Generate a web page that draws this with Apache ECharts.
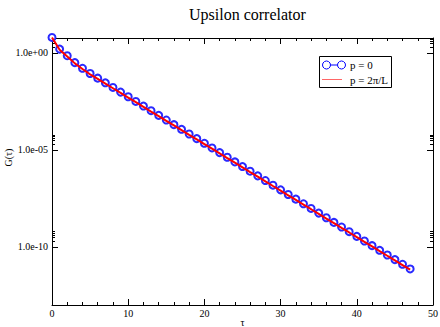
<!DOCTYPE html>
<html>
<head>
<meta charset="utf-8">
<script src="https://cdn.jsdelivr.net/npm/echarts@6/dist/echarts.min.js"></script>
<style>html,body{margin:0;padding:0;background:#fff}#c{width:440px;height:327px}</style>
</head>
<body>
<div id="c"></div>
<script>
const titleText = 'Upsilon correlator';
const xName = 'τ';
const yName = 'G(τ)';
const seriesNames = ['p = 0', 'p = 2π/L'];
const tau = [0,1,2,3,4,5,6,7,8,9,10,11,12,13,14,15,16,17,18,19,20,21,22,23,24,25,26,27,28,29,30,31,32,33,34,35,36,37,38,39,40,41,42,43,44,45,46,47];
const gP0 = [6.3,1.58,0.72,0.316,0.162,0.087,5.01e-2,2.88e-2,1.66e-2,9.55e-3,5.50e-3,3.16e-3,1.82e-3,1.05e-3,6.03e-4,3.47e-4,2.00e-4,1.15e-4,6.61e-5,3.80e-5,2.19e-5,1.26e-5,7.24e-6,4.17e-6,2.40e-6,1.38e-6,7.94e-7,4.57e-7,2.63e-7,1.51e-7,8.71e-8,5.01e-8,2.88e-8,1.66e-8,9.55e-9,5.50e-9,3.16e-9,1.82e-9,1.05e-9,6.03e-10,3.47e-10,2.00e-10,1.15e-10,6.61e-11,3.80e-11,2.19e-11,1.26e-11,7.24e-12];
const gP1 = [6.2,1.45,0.66,0.29,0.148,0.079,4.55e-2,2.62e-2,1.51e-2,8.7e-3,5.0e-3,2.88e-3,1.66e-3,9.5e-4,5.5e-4,3.16e-4,1.82e-4,1.05e-4,6.0e-5,3.46e-5,1.99e-5,1.15e-5,6.6e-6,3.8e-6,2.18e-6,1.26e-6,7.2e-7,4.16e-7,2.39e-7,1.37e-7,7.9e-8,4.56e-8,2.62e-8,1.51e-8,8.7e-9,5.0e-9,2.88e-9,1.66e-9,9.5e-10,5.5e-10,3.16e-10,1.82e-10,1.05e-10,6.0e-11,3.46e-11,1.99e-11,1.15e-11,6.6e-12];
const yMajorTicks = [1, 1e-5, 1e-10];
const yMinorTicks = [2,3,4,5,2e-5,3e-5,4e-5,5e-5,6e-5,2e-10,3e-10,4e-10,5e-10,6e-10];
const yMin = 1e-13, yMax = 5.9;
const xMin = 0, xMax = 50, xStep = 10;

const FONT = '"Liberation Serif", "DejaVu Serif", serif';
function fmtY(v) {
  const e = Math.round(Math.log10(v));
  return '1.0e' + (e < 0 ? '-' : '+') + String(Math.abs(e)).padStart(2, '0');
}
function yAxisDef(pos, ticks, len, labels, line) {
  return {
    type: 'log', logBase: 10, min: yMin, max: yMax, position: pos,
    axisLine: {show: line, lineStyle: {color: '#000', width: 1}},
    axisTick: {show: true, inside: true, length: len, customValues: ticks, lineStyle: {color: '#000', width: 1}},
    axisLabel: labels ? {show: true, customValues: yMajorTicks, formatter: fmtY, margin: 4, fontFamily: FONT, fontSize: 10, color: '#000'} : {show: false},
    splitLine: {show: false}, minorTick: {show: false}, minorSplitLine: {show: false},
    name: labels ? yName : '', nameLocation: 'middle', nameGap: 39, nameRotate: 90, nameMoveOverlap: false,
    nameTextStyle: {fontFamily: FONT, fontSize: 10, color: '#000', padding: [0, 0, 0, 28]}
  };
}
function xAxisDef(pos, labels) {
  return {
    type: 'value', min: xMin, max: xMax, interval: xStep, position: pos,
    axisLine: {show: true, lineStyle: {color: '#000', width: 1}},
    axisTick: {show: true, inside: true, length: 6, lineStyle: {color: '#000', width: 1}},
    minorTick: {show: true, splitNumber: 5, length: 3, lineStyle: {color: '#000', width: 1}},
    axisLabel: labels ? {show: true, margin: 3, fontFamily: FONT, fontSize: 10, color: '#000'} : {show: false},
    splitLine: {show: false},
    name: labels ? xName : '', nameLocation: 'middle', nameGap: 12, nameMoveOverlap: false,
    nameTextStyle: {fontFamily: FONT, fontSize: 10, color: '#000'}
  };
}
const chart = echarts.init(document.getElementById('c'), null, {renderer: 'svg'});
chart.setOption({
  animation: false,
  backgroundColor: '#fff',
  title: {text: titleText, left: 184, top: 1, textStyle: {fontFamily: FONT, fontSize: 16, fontWeight: 'normal', color: '#000'}},
  grid: {left: 52, right: 7, top: 38, bottom: 22, containLabel: false, outerBoundsMode: 'none'},
  xAxis: [xAxisDef('bottom', true), xAxisDef('top', false)],
  yAxis: [
    yAxisDef('left', yMajorTicks, 6, true, true),
    yAxisDef('left', yMinorTicks, 3, false, false),
    yAxisDef('right', yMajorTicks, 6, false, true),
    yAxisDef('right', yMinorTicks, 3, false, false)
  ],
  series: [
    {name: seriesNames[0], type: 'line', xAxisIndex: 0, yAxisIndex: 0, clip: false,
     data: tau.map((t, i) => [t, gP0[i]]),
     symbol: 'emptyCircle', symbolSize: 7, showAllSymbol: true,
     itemStyle: {color: '#2a2aff', borderColor: '#2a2aff', borderWidth: 0.9},
     lineStyle: {color: '#0000ff', width: 1}, z: 2},
    {name: seriesNames[1], type: 'line', xAxisIndex: 0, yAxisIndex: 0, clip: false,
     data: tau.map((t, i) => [t, gP1[i]]),
     symbol: 'none', lineStyle: {color: '#ff0000', width: 2}, z: 3}
  ],
  graphic: [
    {type: 'rect', shape: {x: 319.5, y: 56.5, width: 72, height: 31}, style: {fill: '#fff', stroke: '#000', lineWidth: 1}, z: 10},
    {type: 'line', shape: {x1: 330.5, y1: 65, x2: 337.5, y2: 65}, style: {stroke: '#0000ff', lineWidth: 1}, z: 11},
    {type: 'circle', shape: {cx: 326.5, cy: 65, r: 4}, style: {fill: 'none', stroke: '#0000ff', lineWidth: 1}, z: 11},
    {type: 'circle', shape: {cx: 341.5, cy: 65, r: 4}, style: {fill: 'none', stroke: '#0000ff', lineWidth: 1}, z: 11},
    {type: 'text', x: 350, y: 65, style: {text: seriesNames[0], fontFamily: FONT, fontSize: 11, fill: '#000', textVerticalAlign: 'middle', verticalAlign: 'middle'}, z: 11},
    {type: 'line', shape: {x1: 322, y1: 79.5, x2: 342, y2: 79.5}, style: {stroke: '#ff6666', lineWidth: 1}, z: 11},
    {type: 'text', x: 350, y: 80, style: {text: seriesNames[1], fontFamily: FONT, fontSize: 11, fill: '#000', textVerticalAlign: 'middle', verticalAlign: 'middle'}, z: 11}
  ]
});
</script>
</body>
</html>
